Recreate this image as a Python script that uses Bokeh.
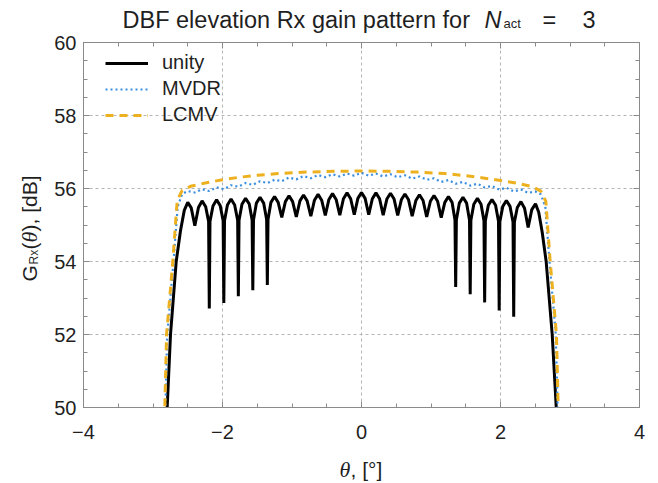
import numpy as np
from bokeh.plotting import figure
from bokeh.layouts import column, row
from bokeh.models import (Label, Legend, LegendItem, LinearAxis, FixedTicker,
                          SingleIntervalTicker, Range1d)
from bokeh.embed import file_html
from bokeh.resources import INLINE

# ---------------- data ----------------
theta_unity = [
    -2.850, -2.796, -2.748, -2.666, -2.604, -2.550, -2.500, -2.450, -2.398,
    -2.346, -2.294, -2.242, -2.200, -2.190, -2.180, -2.137, -2.085, -2.033,
    -1.991, -1.981, -1.971, -1.929, -1.877, -1.825, -1.782, -1.772, -1.762,
    -1.720, -1.668, -1.616, -1.574, -1.564, -1.554, -1.512, -1.460, -1.408,
    -1.365, -1.355, -1.345, -1.303, -1.251, -1.199, -1.147, -1.095, -1.043,
    -0.991, -0.938, -0.886, -0.834, -0.782, -0.729, -0.677, -0.625, -0.573,
    -0.521, -0.469, -0.417, -0.365, -0.312, -0.260, -0.208, -0.156, -0.104,
    -0.052, 0.000, 0.052, 0.104, 0.156, 0.208, 0.260, 0.312, 0.365, 0.417,
    0.469, 0.521, 0.573, 0.625, 0.677, 0.729, 0.782, 0.834, 0.886, 0.938,
    0.991, 1.043, 1.095, 1.147, 1.199, 1.251, 1.303, 1.345, 1.355, 1.365,
    1.408, 1.460, 1.512, 1.554, 1.564, 1.574, 1.616, 1.668, 1.720, 1.762,
    1.772, 1.782, 1.825, 1.877, 1.929, 1.971, 1.981, 1.991, 2.033, 2.085,
    2.137, 2.180, 2.190, 2.200, 2.242, 2.294, 2.346, 2.398, 2.450, 2.504,
    2.550, 2.600, 2.657, 2.744, 2.802, 2.850]
gain_unity = [
    48.00, 50.00, 52.00, 54.00, 54.85, 55.40, 55.62, 55.47, 54.98,
    55.48, 55.66, 55.50, 55.10, 52.71, 55.10, 55.52, 55.69, 55.53,
    55.12, 52.86, 55.12, 55.55, 55.71, 55.55, 55.13, 53.05, 55.13,
    55.57, 55.73, 55.58, 55.14, 53.21, 55.14, 55.60, 55.76, 55.60,
    55.15, 53.36, 55.15, 55.62, 55.78, 55.62, 55.21, 55.64, 55.80,
    55.64, 55.22, 55.66, 55.82, 55.66, 55.24, 55.68, 55.84, 55.68,
    55.26, 55.70, 55.86, 55.70, 55.27, 55.72, 55.88, 55.72, 55.28,
    55.73, 55.89, 55.73, 55.28, 55.72, 55.88, 55.72, 55.27, 55.71, 55.87,
    55.71, 55.26, 55.69, 55.85, 55.69, 55.24, 55.67, 55.83, 55.67, 55.22,
    55.65, 55.81, 55.65, 55.20, 55.62, 55.78, 55.62, 55.14, 53.30, 55.14,
    55.60, 55.76, 55.60, 55.13, 53.10, 55.13, 55.57, 55.73, 55.57, 55.12,
    52.88, 55.12, 55.54, 55.70, 55.54, 55.10, 52.66, 55.10, 55.51, 55.67,
    55.51, 55.08, 52.49, 55.08, 55.48, 55.64, 55.46, 54.93, 55.42, 55.58,
    55.35, 54.80, 54.00, 52.00, 50.00, 48.00]

theta_mvdr = [
    -2.870, -2.822, -2.795, -2.705, -2.645, -2.580, -2.500,
    -2.398, -2.294, -2.190, -2.085, -1.981, -1.877, -1.772, -1.668, -1.564,
    -1.460, -1.355, -1.251, -1.147, -1.043, -0.938, -0.834, -0.729, -0.625,
    -0.521, -0.417, -0.312, -0.208, -0.104, 0.000, 0.104, 0.208, 0.312,
    0.417, 0.521, 0.625, 0.729, 0.834, 0.938, 1.043, 1.147, 1.251, 1.355,
    1.460, 1.564, 1.668, 1.772, 1.877, 1.981, 2.085, 2.190, 2.294, 2.398,
    2.500, 2.580, 2.645, 2.705, 2.795, 2.822, 2.870]
gain_mvdr = [
    48.00, 50.00, 52.00, 54.00, 55.50, 55.85, 55.93,
    55.89, 55.98, 55.93, 56.03, 55.98, 56.09, 56.05, 56.15, 56.10,
    56.20, 56.15, 56.24, 56.20, 56.30, 56.25, 56.34, 56.28, 56.37,
    56.31, 56.39, 56.33, 56.41, 56.35, 56.43, 56.35, 56.41, 56.33,
    56.39, 56.31, 56.36, 56.27, 56.33, 56.24, 56.28, 56.18, 56.23, 56.13,
    56.18, 56.08, 56.13, 56.03, 56.07, 55.97, 56.02, 55.92, 55.97, 55.88,
    55.92, 55.84, 55.50, 54.00, 52.00, 50.00, 48.00]

theta_lcmv = [
    -2.870, -2.830, -2.805, -2.715, -2.652, -2.580, -2.460, -2.250, -2.000,
    -1.750, -1.500, -1.200, -0.800, -0.400, 0.000, 0.400, 0.800, 1.200,
    1.500, 1.750, 2.000, 2.250, 2.460, 2.580, 2.652, 2.715, 2.805, 2.830, 2.870]
gain_lcmv = [
    48.50, 50.00, 52.00, 54.00, 55.67, 55.95, 56.06, 56.15, 56.24,
    56.31, 56.36, 56.41, 56.45, 56.47, 56.48, 56.47, 56.45, 56.41,
    56.35, 56.29, 56.22, 56.14, 56.05, 55.93, 55.65, 54.00, 52.00, 50.00, 48.50]

series_names = ["unity", "MVDR", "LCMV"]
x_grid_ticks = [-2, 0, 2]
y_grid_ticks = [52, 54, 56, 58]

# ---------------- styles / layout ----------------
TXT = "#1f1f1f"
FRAME = "#8a8a8a"
GRID = "#b4b4b4"
SANS = "Liberation Sans"
SERIF = "Liberation Serif"
W, H = 658, 483
FL, FR, FT, FB = 83, 639, 42, 407   # frame edges on the page
L_W = 46                            # y-label strip width
T_H = 34                            # title strip height
B_Y = 449                           # top of x-label strip
RW = W - L_W
P_H = B_Y - T_H
SHIFT = 6                           # baseline compensation of Label text

p = figure(width=RW, height=P_H, x_range=Range1d(-4, 4),
           y_range=Range1d(50, 60), output_backend="svg", toolbar_location=None,
           min_border_left=FL - L_W, min_border_right=W - FR,
           min_border_top=FT - T_H, min_border_bottom=B_Y - FB)
p.background_fill_color = "white"
p.border_fill_color = "white"
p.outline_line_color = FRAME
p.outline_line_width = 1

for ax in p.xaxis:
    ax.ticker = SingleIntervalTicker(interval=2, num_minor_ticks=4)
for ax in p.yaxis:
    ax.ticker = SingleIntervalTicker(interval=2, num_minor_ticks=4)

for ax in list(p.xaxis) + list(p.yaxis):
    ax.axis_line_color = FRAME
    ax.major_tick_line_color = FRAME
    ax.minor_tick_line_color = FRAME
    ax.major_tick_in = 6
    ax.major_tick_out = 0
    ax.minor_tick_in = 4
    ax.minor_tick_out = 0
    ax.major_label_text_font = SANS
    ax.major_label_text_font_size = "20px"
    ax.major_label_text_color = TXT
p.xaxis.major_label_standoff = 17
p.yaxis.major_label_standoff = 7


def mirror_axis():
    return LinearAxis(ticker=SingleIntervalTicker(interval=2, num_minor_ticks=4),
                      axis_line_color=FRAME, major_tick_line_color=FRAME,
                      minor_tick_line_color=FRAME, major_tick_in=6, major_tick_out=0,
                      minor_tick_in=4, minor_tick_out=0, major_label_text_color=None,
                      major_label_text_font_size="1px", major_label_standoff=0)


p.add_layout(mirror_axis(), "above")
p.add_layout(mirror_axis(), "right")

p.xgrid.ticker = FixedTicker(ticks=x_grid_ticks)
p.ygrid.ticker = FixedTicker(ticks=y_grid_ticks)
for g in (p.xgrid, p.ygrid):
    g.grid_line_color = GRID
    g.grid_line_dash = "3 3"
    g.grid_line_width = 1

r_unity = p.line(theta_unity, gain_unity, line_color="black", line_width=3)
r_mvdr = p.line(theta_mvdr, gain_mvdr, line_color="#3a8ee0", line_width=2.2,
                line_dash="2 3")
r_lcmv = p.line(theta_lcmv, gain_lcmv, line_color="#EDB120", line_width=3,
                line_dash="8 6")

legend = Legend(items=[LegendItem(label=series_names[0], renderers=[r_unity]),
                       LegendItem(label=series_names[1], renderers=[r_mvdr]),
                       LegendItem(label=series_names[2], renderers=[r_lcmv])],
                location=(22, 281), padding=0, margin=0, spacing=3,
                label_height=20, glyph_height=20, glyph_width=43,
                label_standoff=14, border_line_color=None,
                background_fill_alpha=0, label_text_font=SANS,
                label_text_font_size="20px", label_text_color=TXT)
p.add_layout(legend)


# ---------------- text strips (title, y label, x label) ----------------
def strip(w, h, xr):
    f = figure(width=w, height=h, x_range=xr, y_range=Range1d(h, 0),
               output_backend="svg", toolbar_location=None,
               x_axis_type=None, y_axis_type=None, min_border=0)
    f.outline_line_color = None
    f.background_fill_color = "white"
    f.border_fill_color = "white"
    f.xgrid.visible = False
    f.ygrid.visible = False
    return f


def lab(f, text, x, y, size, font=SANS, style="normal", angle=0.0):
    f.add_layout(Label(x=x, y=y, text=text, text_font=font, text_font_size=size,
                       text_font_style=style, text_color=TXT, angle=angle,
                       text_align="left", text_baseline="alphabetic"))


# title strip: its frame lines up with the main frame, so x is page x
t = strip(RW, T_H, Range1d(FL, FR))
tb = 25 - SHIFT
lab(t, "DBF elevation Rx gain pattern for", 122, tb, "23.5px")
lab(t, "N", 484, tb, "23.5px", style="italic")
lab(t, "act", 503, tb + 4, "13px")
lab(t, "=", 542, tb, "23.5px")
lab(t, "3", 582, tb, "23.5px")

# y-label strip: page coords
yl = strip(L_W, H, Range1d(0, L_W))
A = np.pi / 2
bx = 35 - SHIFT
lab(yl, "G", bx, 281, "21px", angle=A)
lab(yl, "Rx", bx + 4, 264, "12px", angle=A)
lab(yl, "(", bx, 249, "21px", angle=A)
lab(yl, "\u03b8", bx, 242, "22px", font=SERIF, style="italic", angle=A)
lab(yl, ")", bx, 231, "21px", angle=A)
lab(yl, ", [dB]", bx, 224, "21px", angle=A)

# x-label strip: x is page x, y measured from the strip top
xl = strip(RW, H - B_Y, Range1d(FL, FR))
xb = 475 - SHIFT - B_Y
lab(xl, "\u03b8", 339, xb, "22px", font=SERIF, style="italic")
lab(xl, ", [\u00b0]", 350, xb, "21px")

page = row(yl, column(t, p, xl, spacing=0), spacing=0)
open("out.html", "w").write(file_html(page, INLINE))
